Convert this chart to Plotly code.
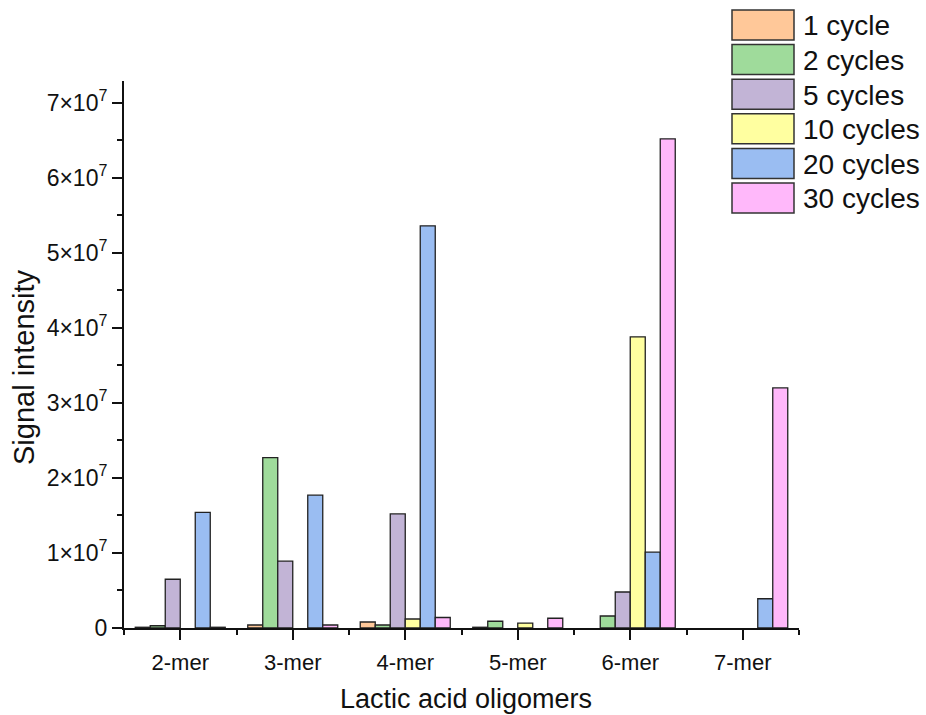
import plotly.graph_objects as go

# Lactic acid oligomer signal intensities after repeated cycles
oligomers = ["2-mer", "3-mer", "4-mer", "5-mer", "6-mer", "7-mer"]
series_names = ["1 cycle", "2 cycles", "5 cycles", "10 cycles", "20 cycles", "30 cycles"]

# None = oligomer not detected for that cycle count
cycle_1 = [0.1e6, 0.4e6, 0.8e6, 0.1e6, None, None]
cycle_2 = [0.3e6, 22.7e6, 0.4e6, 0.9e6, 1.6e6, None]
cycle_5 = [6.5e6, 8.9e6, 15.2e6, None, 4.8e6, None]
cycle_10 = [None, None, 1.2e6, 0.65e6, 38.8e6, None]
cycle_20 = [15.4e6, 17.7e6, 53.6e6, None, 10.1e6, 3.9e6]
cycle_30 = [0.1e6, 0.4e6, 1.4e6, 1.3e6, 65.2e6, 32.0e6]

colors = ["#FFC899", "#9FDB9B", "#C2B4D6", "#FFFFA0", "#9ABDF2", "#FFB8FA"]

y_tick_vals = [0, 1e7, 2e7, 3e7, 4e7, 5e7, 6e7, 7e7]
y_tick_text = ["0"] + [f"{i}×10<sup>7</sup>" for i in range(1, 8)]

FONT = "Liberation Sans, Arial, sans-serif"
INK = "#111111"

fig = go.Figure()
x_pos = list(range(len(oligomers)))
for name, vals, col in zip(series_names,
                           [cycle_1, cycle_2, cycle_5, cycle_10, cycle_20, cycle_30],
                           colors):
    fig.add_trace(go.Bar(
        x=x_pos, y=vals, name=name,
        marker=dict(color=col, line=dict(color="#222222", width=1.3)),
        showlegend=False,
    ))

# Page geometry and helpers for placing items in pixel terms
W, H = 926, 715
ml, mr, mt, mb = 124, 127, 81, 87
pw, ph = W - ml - mr, H - mt - mb

def px_to_paper_x(px):
    return (px - ml) / pw

def px_to_paper_y(py):
    return (H - mb - py) / ph

# Legend drawn as large swatches in the upper-right corner
shapes = []
annotations = []
top0, step, box_h = 10, 34.6, 30
for i, (name, col) in enumerate(zip(series_names, colors)):
    y0 = top0 + i * step
    shapes.append(dict(
        type="rect", xref="paper", yref="paper",
        x0=px_to_paper_x(732), x1=px_to_paper_x(794),
        y0=px_to_paper_y(y0 + box_h), y1=px_to_paper_y(y0),
        fillcolor=col, line=dict(color="#333333", width=1.5),
    ))
    annotations.append(dict(
        xref="paper", yref="paper",
        x=px_to_paper_x(801), y=px_to_paper_y(y0 + box_h / 2 + 1),
        xanchor="left", yanchor="middle", showarrow=False,
        text=name, font=dict(family=FONT, size=28, color=INK),
    ))

# Axis titles
annotations.append(dict(
    xref="paper", yref="paper",
    x=px_to_paper_x(466), y=px_to_paper_y(699),
    xanchor="center", yanchor="middle", showarrow=False,
    text="Lactic acid oligomers", font=dict(family=FONT, size=27, color=INK),
))
annotations.append(dict(
    xref="paper", yref="paper",
    x=px_to_paper_x(24), y=px_to_paper_y(367),
    xanchor="center", yanchor="middle", showarrow=False, textangle=-90,
    text="Signal intensity", font=dict(family=FONT, size=29, color=INK),
))

fig.update_layout(
    width=W, height=H,
    margin=dict(l=ml, r=mr, t=mt, b=mb),
    paper_bgcolor="white", plot_bgcolor="white",
    barmode="group", bargap=0.2, bargroupgap=0,
    font=dict(family=FONT, color=INK),
    shapes=shapes, annotations=annotations,
    xaxis=dict(
        range=[-0.5, 5.5],
        tickmode="array", tickvals=x_pos, ticktext=oligomers,
        ticks="outside", ticklen=10, tickwidth=2, tickcolor=INK,
        minor=dict(tick0=-0.5, dtick=1, ticks="outside", ticklen=5,
                   tickwidth=2, tickcolor=INK),
        showline=True, linewidth=2, linecolor=INK,
        showgrid=False, zeroline=False,
        tickfont=dict(family=FONT, size=22),
        ticklabelstandoff=4,
    ),
    yaxis=dict(
        range=[0, 7.29e7],
        tickmode="array", tickvals=y_tick_vals, ticktext=y_tick_text,
        ticks="outside", ticklen=10, tickwidth=2, tickcolor=INK,
        minor=dict(tick0=0, dtick=5e6, ticks="outside", ticklen=5,
                   tickwidth=2, tickcolor=INK),
        showline=True, linewidth=2, linecolor=INK,
        showgrid=False, zeroline=False,
        tickfont=dict(family=FONT, size=23),
    ),
)

fig.write_html("out.html")
